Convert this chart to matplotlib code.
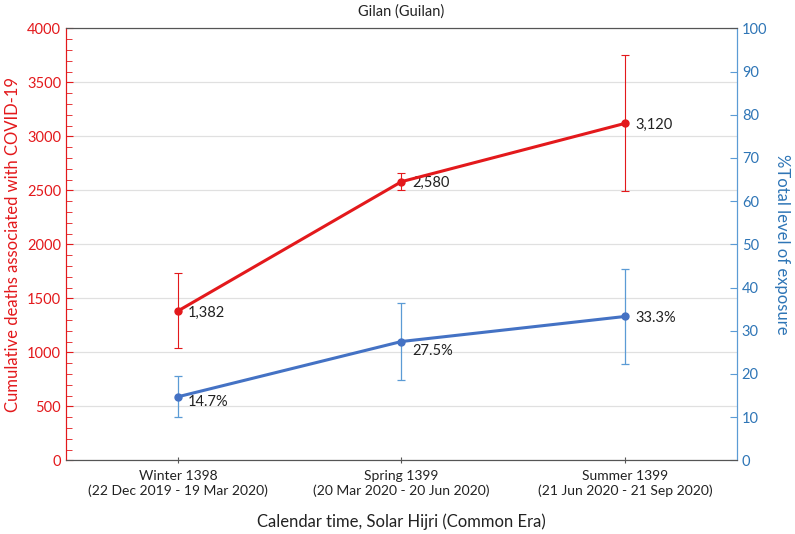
import matplotlib.pyplot as plt
import numpy as np

plt.rcParams['font.family'] = ['Lato', 'DejaVu Sans']

# data
periods = ['Winter 1398\n(22 Dec 2019 - 19 Mar 2020)',
           'Spring 1399\n(20 Mar 2020 - 20 Jun 2020)',
           'Summer 1399\n(21 Jun 2020 - 21 Sep 2020)']
deaths = [1382, 2580, 3120]
deaths_lo = [1040, 2506, 2490]
deaths_hi = [1730, 2660, 3756]
exposure = [14.7, 27.5, 33.3]
exposure_lo = [10.0, 18.7, 22.4]
exposure_hi = [19.5, 36.5, 44.2]

red = '#e3191c'
blue = '#4472c4'
lblue = '#5b9bd5'
axblue = '#2e75b6'

x = np.arange(len(periods))

fig, ax = plt.subplots(figsize=(7.95, 5.34), dpi=100)
fig.subplots_adjust(left=0.083, right=0.927, top=0.947, bottom=0.138)
ax2 = ax.twinx()

# red series (left axis)
d = np.array(deaths)
ax.errorbar(x, d, yerr=[d - np.array(deaths_lo), np.array(deaths_hi) - d],
            fmt='none', ecolor=red, elinewidth=0.8, capsize=3, capthick=0.8, zorder=3)
ax.plot(x, d, color=red, lw=2.2, marker='o', ms=5, zorder=4)
for xi, v in zip(x, deaths):
    ax.annotate(f'{v:,}', (xi, v), xytext=(7.5, -1), textcoords='offset points',
                va='center', ha='left', fontsize=10.5, color='#222222')

# blue series (right axis)
e = np.array(exposure)
ax2.errorbar(x, e, yerr=[e - np.array(exposure_lo), np.array(exposure_hi) - e],
             fmt='none', ecolor=lblue, elinewidth=0.9, capsize=3, capthick=0.9, zorder=3)
ax2.plot(x, e, color=blue, lw=2.2, marker='o', ms=5, zorder=4)
offs = [(7.5, -4), (7.5, -7), (7.5, -1)]
for xi, v, o in zip(x, exposure, offs):
    ax2.annotate(f'{v}%', (xi, v), xytext=o, textcoords='offset points',
                 va='center', ha='left', fontsize=10.5, color='#222222')

ax.set_xlim(-0.5, 2.5)
ax.set_ylim(0, 4000)
ax2.set_ylim(0, 100)

ax.set_yticks(np.arange(0, 4001, 500))
ax.set_yticks(np.arange(0, 4001, 100), minor=True)
ax2.set_yticks(np.arange(0, 101, 10))
ax.grid(axis='y', color='#e0e0e0', lw=0.9)
ax.set_axisbelow(True)

ax.set_xticks(x)
ax.set_xticklabels(periods, fontsize=10, color='#222222')
ax.tick_params(axis='x', length=4, direction='inout', color='#555555', pad=5)

ax.tick_params(axis='y', which='both', colors=red, labelsize=10.5, direction='in')
ax.tick_params(axis='y', which='major', length=5)
ax.tick_params(axis='y', which='minor', length=4)
ax2.tick_params(axis='y', colors=axblue, labelsize=10.5, direction='in', length=5)
ax2.tick_params(axis='y', color=lblue)

for a in (ax, ax2):
    a.spines['top'].set_color('#555555')
    a.spines['bottom'].set_color('#555555')
    a.spines['left'].set_color(red)
    a.spines['right'].set_color(lblue)

ax.set_ylabel('Cumulative deaths associated with COVID-19', color=red, fontsize=12)
ax2.set_ylabel('%Total level of exposure', color=axblue, fontsize=12, rotation=270, labelpad=16)
ax.set_xlabel('Calendar time, Solar Hijri (Common Era)', fontsize=12, color='#222222', labelpad=12)
ax.set_title('Gilan (Guilan)', fontsize=10.5, color='#222222', pad=9)

fig.savefig('out.png', dpi=100)
